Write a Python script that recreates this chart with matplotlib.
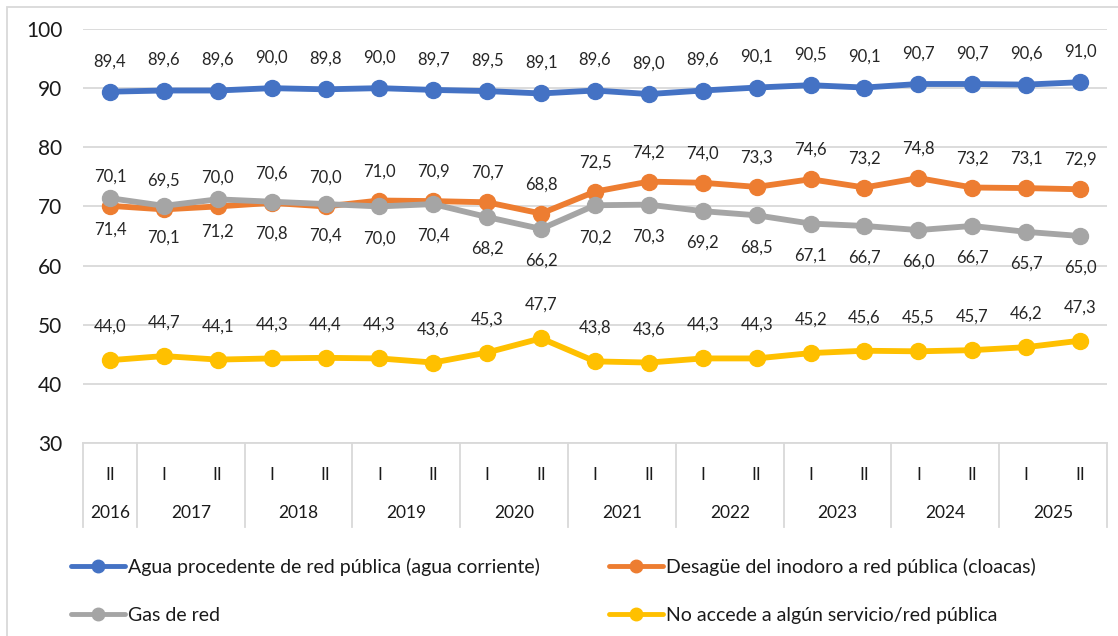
import matplotlib.pyplot as plt
from matplotlib.patches import Rectangle
import matplotlib.transforms as mtransforms

plt.rcParams['font.family'] = ['Lato', 'DejaVu Sans']

semesters = ["II"] + ["I", "II"] * 9
years = ["2016", "2017", "2018", "2019", "2020", "2021", "2022", "2023", "2024", "2025"]

agua = [89.4, 89.6, 89.6, 90.0, 89.8, 90.0, 89.7, 89.5, 89.1, 89.6,
        89.0, 89.6, 90.1, 90.5, 90.1, 90.7, 90.7, 90.6, 91.0]
cloacas = [70.1, 69.5, 70.0, 70.6, 70.0, 71.0, 70.9, 70.7, 68.8, 72.5,
           74.2, 74.0, 73.3, 74.6, 73.2, 74.8, 73.2, 73.1, 72.9]
gas = [71.4, 70.1, 71.2, 70.8, 70.4, 70.0, 70.4, 68.2, 66.2, 70.2,
       70.3, 69.2, 68.5, 67.1, 66.7, 66.0, 66.7, 65.7, 65.0]
ninguno = [44.0, 44.7, 44.1, 44.3, 44.4, 44.3, 43.6, 45.3, 47.7, 43.8,
           43.6, 44.3, 44.3, 45.2, 45.6, 45.5, 45.7, 46.2, 47.3]

series = [
    ("Agua procedente de red pública (agua corriente)", agua, "#4472C4", 22),
    ("Desagüe del inodoro a red pública (cloacas)", cloacas, "#ED7D31", 21),
    ("Gas de red", gas, "#A5A5A5", -23),
    ("No accede a algún servicio/red pública", ninguno, "#FFC000", 24),
]

fig = plt.figure(figsize=(11.18, 6.36), dpi=100)
ax = fig.add_axes([83 / 1118, 1 - 443 / 636, 1024 / 1118, 414 / 636])

x = list(range(len(semesters)))
handles = []
for label, values, color, offset in series:
    h, = ax.plot(x, values, color=color, lw=4.2, marker='o', ms=11.5,
                 label=label, solid_capstyle='round', zorder=3)
    handles.append(h)
    for xi, v in zip(x, values):
        ax.annotate(f"{v:.1f}".replace(".", ","), (xi, v),
                    xytext=(0, offset), textcoords='offset points',
                    ha='center', va='center', fontsize=12, color='#262626')

ax.set_xlim(-0.5, len(x) - 0.5)
ax.set_ylim(30, 100)
ax.set_yticks(range(30, 101, 10))
ax.tick_params(axis='y', length=0, pad=15, labelsize=15, labelcolor='#1a1a1a')
ax.grid(axis='y', color='#D9D9D9', lw=1.3)
ax.set_axisbelow(True)
for s in ['left', 'right', 'top']:
    ax.spines[s].set_visible(False)
ax.spines['bottom'].set_color('#D9D9D9')
ax.spines['bottom'].set_linewidth(1.3)

ax.set_xticks(x)
ax.set_xticklabels(semesters, fontsize=12.5, color='#1a1a1a')
ax.tick_params(axis='x', length=0, pad=17)

# year groups and separators
trans = mtransforms.blended_transform_factory(ax.transData, ax.transAxes)
bottom = -84 / 414
bounds = [-0.5, 0.5] + [0.5 + 2 * k for k in range(1, 10)]
for b in bounds:
    ax.plot([b, b], [0, bottom], transform=trans, color='#D9D9D9',
            lw=1.3, clip_on=False)
for k, yr in enumerate(years):
    ax.text((bounds[k] + bounds[k + 1]) / 2, -70 / 414, yr, transform=trans,
            ha='center', va='center', fontsize=12.5, color='#1a1a1a')

# chart frame
fig.patches.append(Rectangle((7 / 1118, -0.1), 1.2, 1 - 7 / 636 + 0.1,
                             transform=fig.transFigure, fill=False,
                             edgecolor='#D9D9D9', lw=1.3))

leg_kw = dict(frameon=False, fontsize=14, handlelength=2.8,
              handletextpad=0.15, labelspacing=1.6, labelcolor='#1a1a1a',
              borderaxespad=0)
fig.legend([handles[0], handles[2]], [series[0][0], series[2][0]],
           loc='upper left', bbox_to_anchor=(63 / 1118, 1 - 550 / 636), **leg_kw)
fig.legend([handles[1], handles[3]], [series[1][0], series[3][0]],
           loc='upper left', bbox_to_anchor=(601 / 1118, 1 - 550 / 636), **leg_kw)
for lg in fig.legends:
    for ln in lg.get_lines():
        ln.set_markersize(9)
        ln.set_linewidth(3.5)

fig.savefig("out.png", dpi=100)
